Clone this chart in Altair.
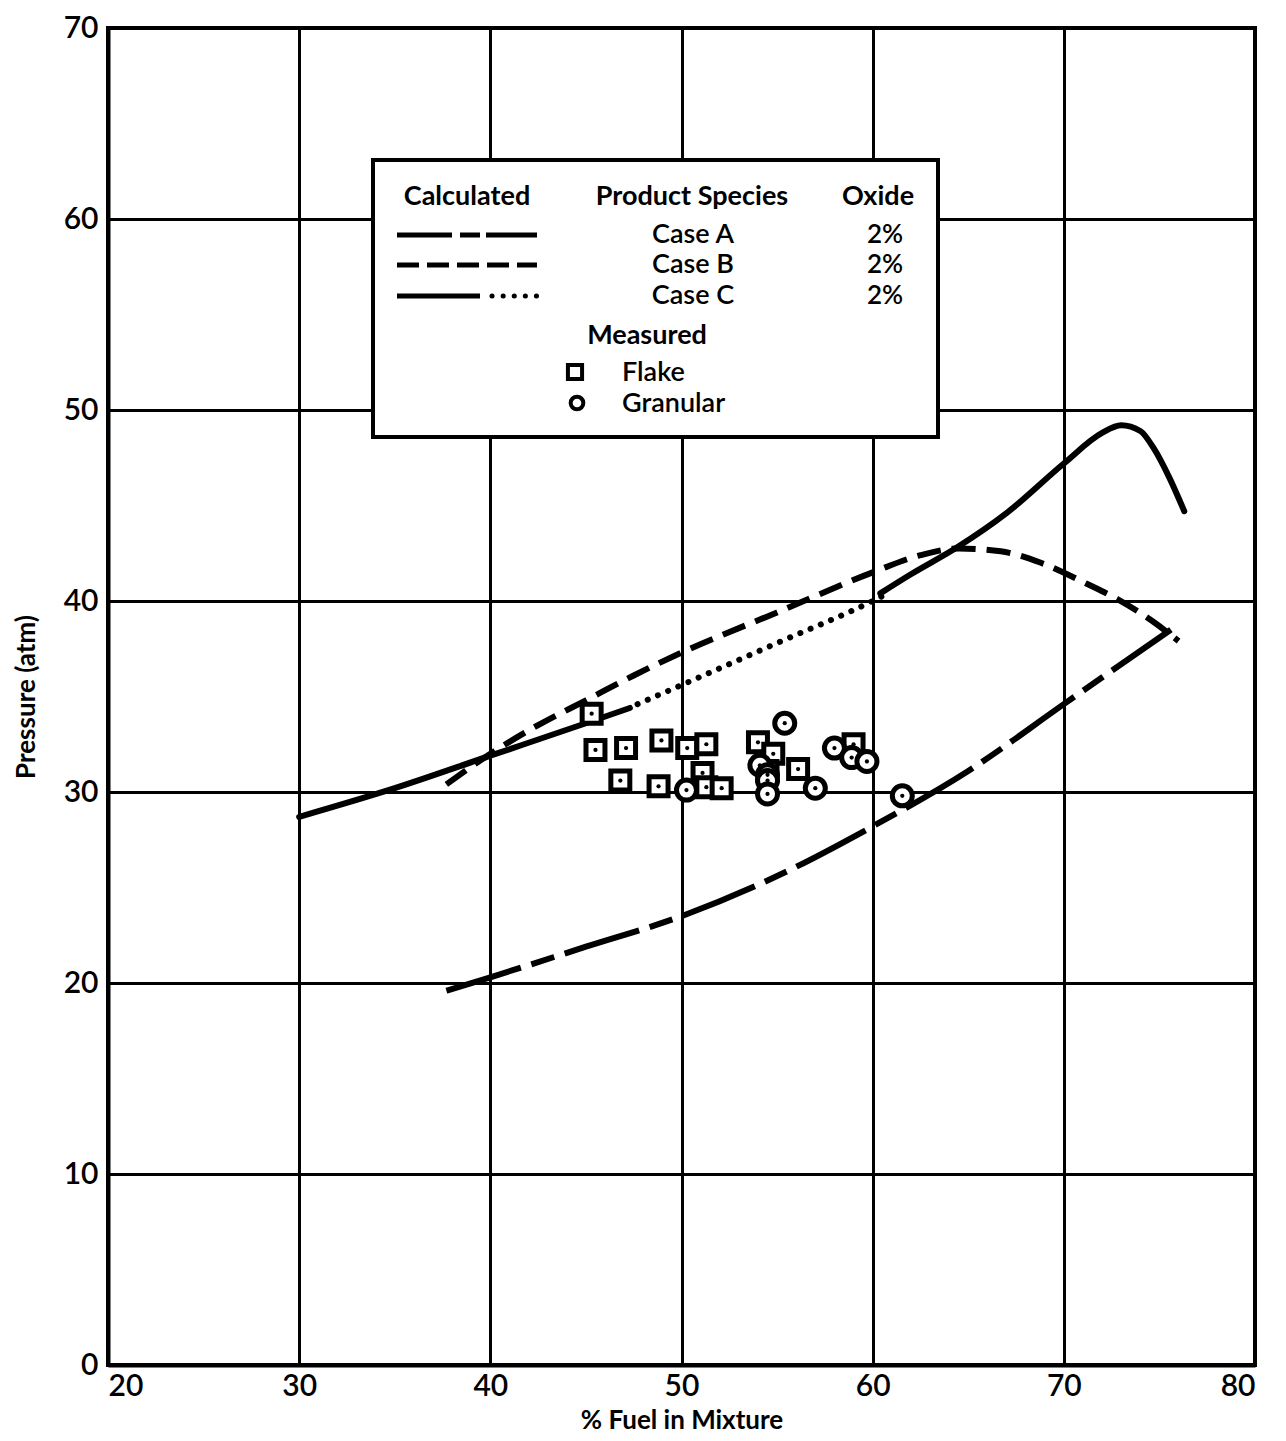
import altair as alt
import pandas as pd

# ---- data ----
caseA_x = [37.7, 40, 45, 50, 55, 60, 65, 70, 75.6]
caseA_y = [19.6, 20.3, 21.9, 23.5, 25.6, 28.2, 31.1, 34.6, 38.5]

caseB_x = [37.7, 40, 42.5, 45, 47.5, 50, 55, 60, 62.5, 64.5, 66.7, 68.8, 71.2, 72.8, 74.7, 76]
caseB_y = [30.4, 32.0, 33.5, 34.8, 36.1, 37.3, 39.4, 41.5, 42.4, 42.75, 42.6, 42.0, 40.9, 40.1, 38.9, 37.9]

caseC_solid1_x = [30, 35, 40, 45, 47.3]
caseC_solid1_y = [28.7, 30.2, 31.9, 33.6, 34.4]
caseC_dot_x = [47.7, 50, 55, 60, 60.6]
caseC_dot_y = [34.6, 35.6, 37.8, 40.0, 40.3]
caseC_solid2_x = [60.4, 62, 64.4, 67, 70, 72, 73, 74, 74.7, 75.5, 76.3]
caseC_solid2_y = [40.4, 41.4, 42.8, 44.6, 47.2, 48.8, 49.2, 48.9, 48.0, 46.5, 44.7]

flake_x = [45.3, 45.5, 47.1, 48.95, 50.3, 51.3, 46.8, 48.8, 51.1, 51.3, 52.1, 54.0, 54.8, 56.1, 59.0, 54.5]
flake_y = [34.1, 32.2, 32.3, 32.7, 32.3, 32.5, 30.6, 30.3, 31.0, 30.25, 30.2, 32.6, 32.0, 31.2, 32.5, 31.1]

gran_x = [55.4, 50.26, 54.1, 54.5, 54.5, 54.5, 57.0, 58.0, 58.9, 59.7, 61.55]
gran_y = [33.6, 30.1, 31.4, 30.9, 30.6, 29.9, 30.2, 32.3, 31.8, 31.6, 29.8]

x_ticks = [20, 30, 40, 50, 60, 70, 80]
y_ticks = [0, 10, 20, 30, 40, 50, 60, 70]

FONT = "Lato"
LW = 6

xs = alt.Scale(domain=[20, 80], nice=False, zero=False)
ys = alt.Scale(domain=[0, 70], nice=False, zero=False)


def df(x, y):
    return pd.DataFrame({"x": x, "y": y})


def enc(ch):
    return ch.encode(x=alt.X("x:Q", scale=xs), y=alt.Y("y:Q", scale=ys))


def line(x, y, dash=None, width=LW, cap=None):
    kw = dict(color="black", strokeWidth=width, interpolate="monotone",
              strokeCap=cap or ("butt" if dash else "round"))
    if dash:
        kw["strokeDash"] = dash
    return enc(alt.Chart(df(x, y)).mark_line(**kw))


axes = alt.Chart(df([20], [0])).mark_point(opacity=0).encode(
    x=alt.X("x:Q", scale=xs, title="% Fuel in Mixture",
            axis=alt.Axis(values=x_ticks, grid=True, ticks=False, labelPadding=6,
                          titlePadding=6)),
    y=alt.Y("y:Q", scale=ys, title="Pressure (atm)",
            axis=alt.Axis(values=y_ticks, grid=True, ticks=False, labelPadding=10,
                          titlePadding=24)),
)

lA = line(caseA_x, caseA_y, dash=[78, 11, 24, 11])
lB = line(caseB_x, caseB_y, dash=[24, 11])
lC1 = line(caseC_solid1_x, caseC_solid1_y)
lC2 = line(caseC_dot_x, caseC_dot_y, dash=[0.1, 11], cap="round")
lC3 = line(caseC_solid2_x, caseC_solid2_y)

sq = enc(alt.Chart(df(flake_x, flake_y)).mark_point(
    shape="square", filled=True, fill="white", stroke="black", strokeWidth=5, size=360, opacity=1))
sq_dot = enc(alt.Chart(df(flake_x, flake_y)).mark_point(
    shape="circle", filled=True, color="black", size=18, opacity=1))
ci = enc(alt.Chart(df(gran_x, gran_y)).mark_point(
    shape="circle", filled=True, fill="white", stroke="black", strokeWidth=5, size=400, opacity=1))
ci_dot = enc(alt.Chart(df(gran_x, gran_y)).mark_point(
    shape="circle", filled=True, color="black", size=18, opacity=1))

# ---- custom legend box (pixel positions within the plot area) ----
one = pd.DataFrame({"a": [0]})
legend_layers = [alt.Chart(one).mark_rect(fill="white", stroke="black", strokeWidth=4).encode(
    x=alt.value(265), x2=alt.value(830), y=alt.value(132), y2=alt.value(409))]


def txt(s, x, y, align="center", size=27, weight=700):
    return alt.Chart(one).mark_text(text=s, font=FONT, fontSize=size, fontWeight=weight,
                                    align=align, baseline="middle", color="black").encode(
        x=alt.value(x), y=alt.value(y))


def rule(x1, x2, y, dash=None, width=5, cap="butt"):
    kw = dict(color="black", strokeWidth=width, strokeCap=cap)
    if dash:
        kw["strokeDash"] = dash
    return alt.Chart(one).mark_rule(**kw).encode(x=alt.value(x1), x2=alt.value(x2), y=alt.value(y))


legend_layers += [
    txt("Calculated", 359, 169),
    txt("Product Species", 584, 169),
    txt("Oxide", 770, 169),
    rule(289, 429, 207, dash=[55, 8, 20, 6]),
    rule(289, 429, 237, dash=[22, 8]),
    rule(289, 372, 268),
    rule(384, 429, 268, dash=[0.1, 11], cap="round"),
    txt("Case  A", 585, 207, weight=600),
    txt("Case  B", 585, 237, weight=600),
    txt("Case  C", 585, 268, weight=600),
    txt("2%", 777, 207, weight=600, size=26),
    txt("2%", 777, 237, weight=600, size=26),
    txt("2%", 777, 268, weight=600, size=26),
    txt("Measured", 539, 308),
    txt("Flake", 514, 345, align="left", weight=600),
    txt("Granular", 514, 376, align="left", weight=600),
    alt.Chart(one).mark_point(shape="square", filled=False, stroke="black",
                              strokeWidth=4, size=200, opacity=1).encode(
        x=alt.value(467), y=alt.value(344)),
    alt.Chart(one).mark_point(shape="circle", filled=False, stroke="black",
                              strokeWidth=4, size=160, opacity=1).encode(
        x=alt.value(469), y=alt.value(375)),
]

chart = alt.layer(axes, lA, lB, lC1, lC2, lC3, sq, sq_dot, ci, ci_dot, *legend_layers).properties(
    width=1147, height=1337,
    autosize=alt.AutoSizeParams(type="none"),
    padding={"left": 100, "top": 20, "right": 15, "bottom": 70},
    background="white",
).configure_view(
    stroke="black", strokeWidth=4
).configure_axis(
    gridColor="black", gridWidth=3, gridOpacity=1,
    domainColor="black", domainWidth=4,
    labelFont=FONT, labelFontSize=30, labelColor="black", labelFontWeight=600,
    titleFont=FONT, titleFontSize=26, titleColor="black", titleFontWeight="bold",
)

chart.save("out.html", embed_options={"renderer": "svg", "actions": False})
